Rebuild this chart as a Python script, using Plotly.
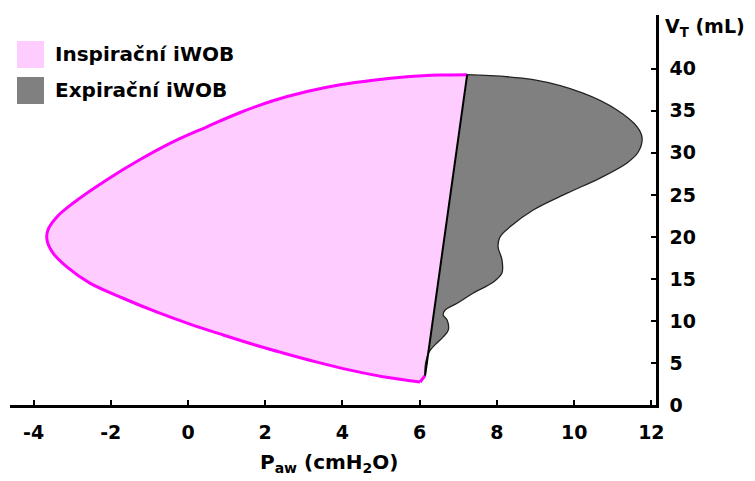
import plotly.graph_objects as go

# Inspiratory pressure-volume limb (P_aw in cmH2O, V_T in mL), bottom -> left -> top
insp_p = [6.01, 5.05, 4.20, 3.34, 2.46, 1.87, 0.91, 0.05, -0.80, -1.68, -2.54,
          -3.13, -3.50, -3.65, -3.63, -3.39, -2.98, -2.10, -1.24, -0.39, 0.49, 1.35,
          2.20, 3.08, 3.94, 4.79, 5.67, 6.53, 7.23]
insp_v = [2.74, 3.37, 4.15, 5.10, 6.19, 6.96, 8.33, 9.62, 11.04, 12.7, 14.5,
          16.4, 18.1, 19.6, 20.8, 22.4, 24.0, 26.8, 29.2, 31.3, 33.1, 34.8,
          36.2, 37.3, 38.1, 38.65, 39.05, 39.25, 39.3]

# Expiratory limb, top -> bottom
exp_p = [7.23, 8.94, 10.23, 11.11, 11.63, 11.76, 11.66, 11.37, 10.67, 9.82, 8.94,
         8.34, 8.08, 8.03, 8.13, 8.13, 7.90, 7.38, 6.97, 6.66, 6.61, 6.71, 6.74,
         6.61, 6.45, 6.27, 6.19, 6.14, 6.14]
exp_v = [39.3, 38.7, 37.1, 35.1, 33.1, 31.8, 30.1, 28.8, 27.0, 25.2, 23.2,
         21.2, 20.0, 18.8, 17.3, 15.7, 14.6, 13.3, 12.1, 11.3, 10.7, 10.1, 8.9,
         8.1, 7.4, 6.5, 5.7, 4.5, 3.5]

x_ticks = [-4, -2, 0, 2, 4, 6, 8, 10, 12]
x_ticktext = ["-4", "-2", "0", "2", "4", "6", "8", "10", "12"]
y_ticks = [0, 5, 10, 15, 20, 25, 30, 35, 40]
legend_labels = ["Inspirační iWOB", "Expirační iWOB"]

PINK_FILL = "#FFCCFF"
PINK_LINE = "#FF00FF"
GRAY_FILL = "#808080"
FONT = "DejaVu Sans"

# end-inspiration / end-expiration points joined by the chord
top_p, top_v = exp_p[0], exp_v[0]
bot_p, bot_v = exp_p[-1], exp_v[-1]

fig = go.Figure()

# inspiratory work area (fill only, closed along the chord)
fig.add_trace(go.Scatter(x=insp_p + [bot_p], y=insp_v + [bot_v], mode="lines", fill="toself",
                         fillcolor=PINK_FILL, line=dict(width=0),
                         hoverinfo="skip", showlegend=False))
# inspiratory limb outline
fig.add_trace(go.Scatter(x=insp_p, y=insp_v, mode="lines",
                         line=dict(color=PINK_LINE, width=3, shape="spline", smoothing=1.0),
                         hoverinfo="skip", showlegend=False))
fig.add_trace(go.Scatter(x=[insp_p[0], bot_p], y=[insp_v[0], bot_v], mode="lines",
                         line=dict(color=PINK_LINE, width=3),
                         hoverinfo="skip", showlegend=False))
# expiratory work area
fig.add_trace(go.Scatter(x=exp_p, y=exp_v, mode="lines", fill="toself",
                         fillcolor=GRAY_FILL, line=dict(color="#222222", width=1.3, shape="spline", smoothing=1.0),
                         hoverinfo="skip", showlegend=False))
# chord
fig.add_trace(go.Scatter(x=[top_p, bot_p], y=[top_v, bot_v], mode="lines",
                         line=dict(color="black", width=2), hoverinfo="skip", showlegend=False))

# plot area in pixels: x 10..656, y 15..405
L, R, T, B = 10, 656, 15, 405
W, H = R - L, B - T


def px(xp):
    return (xp - L) / W


def py(yp):
    return (B - yp) / H


shapes = []
annotations = []
for label, color, (y0, y1) in zip(legend_labels, [PINK_FILL, GRAY_FILL], [(41, 68), (77, 104)]):
    shapes.append(dict(type="rect", xref="paper", yref="paper",
                       x0=px(17), x1=px(44), y0=py(y1), y1=py(y0),
                       fillcolor=color, line=dict(width=0)))
    annotations.append(dict(text=label, xref="paper", yref="paper", x=px(53), y=py((y0 + y1) / 2),
                            xanchor="left", yanchor="middle", showarrow=False,
                            font=dict(family=FONT, size=20, color="black", weight="bold")))

annotations.append(dict(text="V<sub>T</sub> (mL)", xref="paper", yref="paper", x=px(663), y=py(28),
                        xanchor="left", yanchor="middle", showarrow=False,
                        font=dict(family=FONT, size=19, color="black", weight="bold")))
annotations.append(dict(text="P<sub>aw</sub> (cmH<sub>2</sub>O)", xref="paper", yref="paper", x=px(329), y=py(463),
                        xanchor="center", yanchor="middle", showarrow=False,
                        font=dict(family=FONT, size=20, color="black", weight="bold")))

tick_font = dict(family=FONT, size=19, color="black", weight="bold")
fig.update_layout(
    width=755, height=481,
    margin=dict(l=L, r=755 - R, t=T, b=481 - B),
    paper_bgcolor="white", plot_bgcolor="white",
    shapes=shapes, annotations=annotations,
    xaxis=dict(range=[-4.61, 12.12], tickvals=x_ticks, ticktext=x_ticktext,
               showgrid=False, zeroline=False,
               showline=True, linecolor="black", linewidth=2.5,
               ticks="inside", ticklen=5, tickwidth=2, tickcolor="black",
               ticklabelstandoff=8, tickfont=tick_font),
    yaxis=dict(range=[0, 46.4], tickvals=y_ticks, side="right", showgrid=False, zeroline=False,
               showline=True, linecolor="black", linewidth=2.5,
               ticks="inside", ticklen=5, tickwidth=2, tickcolor="black",
               ticklabelstandoff=7, tickfont=tick_font),
)

fig.write_html("out.html")
